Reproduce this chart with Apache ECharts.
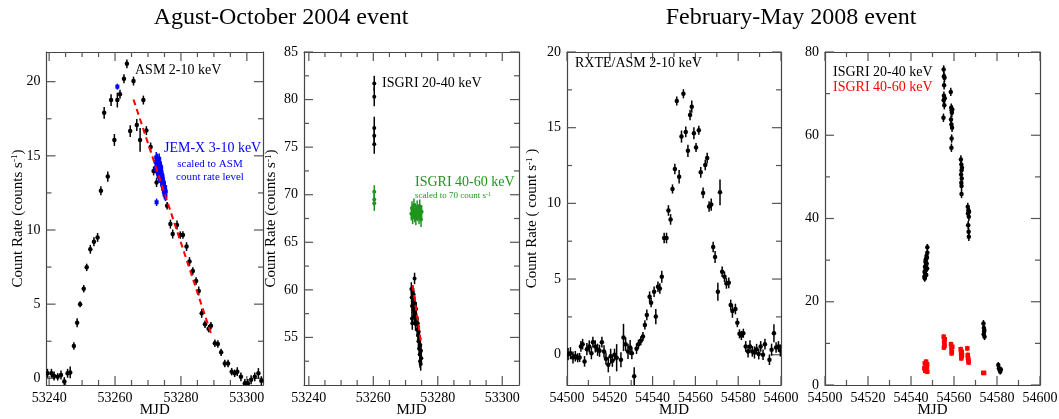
<!DOCTYPE html>
<html>
<head>
<meta charset="utf-8">
<script src="https://cdn.jsdelivr.net/npm/echarts@6/dist/echarts.min.js"></script>
<style>
  html, body { margin: 0; padding: 0; background: #fff; }
  #chart { width: 1059px; height: 419px; }
</style>
</head>
<body>
<div id="chart"></div>
<script>
// ---- data: [MJD, count rate, error] ----
var asm04 = [
  [53239.5,0.34,0.3],[53240.7,0.34,0.3],[53241.5,0.16,0.3],[53242.6,0.1,0.25],[53243.6,0.22,0.3],
  [53244.6,-0.22,0.3],[53245.6,0.34,0.3],[53246.4,0.4,0.4],[53247.5,2.18,0.25],[53248.5,3.75,0.3],
  [53249.4,5.0,0.2],[53250.5,6.04,0.25],[53251.4,7.48,0.25],[53252.5,8.7,0.3],[53253.6,9.21,0.3],
  [53254.7,9.5,0.3],[53255.7,12.65,0.3],[53256.7,17.9,0.4],[53257.8,13.6,0.35],[53258.8,18.76,0.4],
  [53259.8,16.07,0.4],[53260.7,18.76,0.5],[53261.5,19.15,0.3],[53262.7,20.2,0.3],[53263.6,21.2,0.3],
  [53264.6,16.67,0.4],[53265.6,20.04,0.3],[53266.6,17.08,0.4],[53267.6,16.07,0.8],[53268.6,18.76,0.3],
  [53269.5,16.7,0.3],[53270.8,15.6,0.3],[53271.7,13.98,0.3],[53272.6,13.2,0.3],[53275.8,11.64,0.25],
  [53276.8,10.4,0.3],[53277.5,9.73,0.3],[53278.8,10.34,0.3],[53279.8,9.66,0.25],[53280.6,9.66,0.25],
  [53281.7,8.88,0.3],[53282.6,7.87,0.3],[53283.6,7.24,0.25],[53284.6,6.56,0.25],[53285.4,5.89,0.3],
  [53286.3,4.38,0.3],[53287.3,3.64,0.25],[53288.4,3.35,0.25],[53289.1,3.55,0.25],[53290.3,2.36,0.25],
  [53291.2,2.31,0.25],[53292.2,1.75,0.25],[53293.3,1.0,0.25],[53294.3,1.0,0.25],[53295.4,0.45,0.25],
  [53296.3,0.34,0.25],[53297.1,0.45,0.3],[53298.2,0.1,0.3],[53299.4,-0.34,0.3],[53300.3,-0.34,0.3],
  [53301.3,-0.1,0.3],[53302.4,0.1,0.3],[53303.5,0.34,0.35],[53304.4,-0.16,0.3]
];
var jemx04 = [
  [53260.7,19.66,0.2],[53272.6,11.87,0.25],
  [53272.3,14.6,0.35],[53272.4,14.2,0.35],[53272.5,14.9,0.35],[53272.6,14.4,0.35],[53272.7,14.0,0.35],
  [53272.8,14.7,0.35],[53272.9,14.3,0.35],[53273.0,13.9,0.35],[53273.1,14.6,0.35],[53273.2,14.2,0.35],
  [53273.3,13.8,0.35],[53273.4,14.8,0.35],[53273.5,14.4,0.35],[53273.6,13.9,0.35],[53273.7,13.6,0.35],
  [53273.8,14.3,0.35],[53273.9,14.0,0.35],[53274.0,13.5,0.35],[53274.1,13.9,0.35],[53274.2,13.3,0.35],
  [53274.3,13.7,0.35],[53274.4,13.0,0.35],[53274.5,13.4,0.35],[53274.6,12.8,0.35],[53274.7,13.1,0.35],
  [53274.8,12.6,0.35],[53274.9,12.9,0.35],[53275.0,12.4,0.35],[53275.1,12.7,0.35],[53275.3,12.3,0.35],
  [53272.5,14.1,0.35],[53272.9,14.8,0.35],[53273.2,13.6,0.35],[53273.6,14.5,0.35],[53274.0,14.2,0.35],
  [53274.4,13.6,0.35],[53274.8,13.2,0.35],[53275.2,12.9,0.35],[53275.4,12.6,0.35],[53273.9,13.3,0.35]
];
var fit04asm = [[53265.6,18.8],[53289.3,2.9]];

var isgriLo04 = [
  [53260.3,81.7,0.8],[53260.3,80.3,1.0],[53260.3,77.0,1.2],[53260.3,76.2,1.0],[53260.3,75.3,1.0],
  [53271.8,60.1,0.7],[53271.9,59.2,0.7],[53272.0,58.3,0.7],[53272.0,57.0,0.7],[53272.1,56.5,0.7],
  [53272.2,59.8,0.7],[53272.3,58.8,0.7],[53272.4,57.9,0.7],[53272.5,59.5,0.7],[53272.6,58.0,0.7],
  [53272.7,57.2,0.7],[53272.8,61.2,0.6],[53272.9,58.6,0.7],[53273.0,57.5,0.7],[53273.1,56.4,0.7],
  [53273.3,58.0,0.7],[53273.4,56.9,0.7],[53273.6,55.8,0.7],[53273.8,56.5,0.7],[53273.9,55.2,0.7],
  [53274.0,54.6,0.7],[53274.1,55.6,0.7],[53274.2,53.8,0.7],[53274.3,54.9,0.7],[53274.4,53.2,0.7],
  [53274.5,52.5,0.7],[53274.6,54.2,0.7],[53274.7,52.2,0.7],[53274.8,53.6,0.7],[53274.9,52.8,0.7]
];
var isgriHi04 = [
  [53260.3,70.3,0.7],[53260.3,69.5,0.7],[53260.3,69.1,0.8],
  [53271.8,68.0,0.7],[53272.0,68.6,0.7],[53272.2,67.6,0.7],[53272.4,68.3,0.7],[53272.6,68.9,0.7],
  [53272.8,67.8,0.7],[53273.0,68.4,0.7],[53273.2,67.5,0.7],[53273.4,68.1,0.7],[53273.6,68.7,0.7],
  [53273.8,67.9,0.7],[53274.0,68.3,0.7],[53274.2,67.6,0.7],[53274.4,68.8,0.7],[53274.6,68.0,0.7],
  [53274.8,67.4,0.8],[53275.0,68.2,0.7]
];
var fit04isgri = [[53272.2,60.5],[53274.8,54.4]];

var asm08 = [
  [54500.5,0.04,0.4],[54501.6,0.1,0.4],[54502.8,-0.18,0.4],[54503.9,-0.1,0.35],[54505.0,-0.2,0.3],
  [54505.9,-0.18,0.3],[54506.5,0.55,0.35],[54507.3,0.7,0.35],[54508.2,-0.44,0.35],[54509.3,0.37,0.4],
  [54510.4,0.55,0.4],[54511.4,0.1,0.4],[54512.1,0.83,0.35],[54513.2,0.55,0.4],[54514.3,0.33,0.4],
  [54515.2,0.26,0.4],[54516.3,0.83,0.35],[54517.3,0.22,0.4],[54518.2,-0.26,0.4],[54519.3,-0.66,0.5],
  [54520.4,-0.1,0.5],[54521.2,-0.4,0.4],[54522.2,0.0,0.4],[54523.2,-0.2,0.9],[54525.2,-0.33,0.5],
  [54526.4,1.14,0.9],[54527.4,0.7,0.45],[54528.5,0.22,0.5],[54529.5,0.48,0.5],[54530.3,0.1,0.4],
  [54531.4,-1.42,0.6],[54532.5,0.4,0.35],[54533.4,0.7,0.3],[54534.5,0.92,0.3],[54535.5,1.2,0.3],
  [54536.4,1.97,0.3],[54537.3,2.63,0.35],[54538.6,3.83,0.35],[54539.3,3.44,0.3],[54540.7,4.16,0.35],
  [54541.5,2.52,0.5],[54542.5,4.49,0.35],[54543.4,4.38,0.35],[54544.3,5.15,0.4],[54545.4,7.71,0.35],
  [54546.5,7.71,0.35],[54547.4,9.53,0.35],[54548.4,8.94,0.35],[54549.3,10.95,0.3],[54550.4,12.27,0.35],
  [54551.3,16.76,0.3],[54552.4,11.76,0.45],[54553.5,14.41,0.4],[54554.4,17.24,0.3],[54555.5,14.72,0.35],
  [54556.5,13.47,0.4],[54557.5,15.84,0.35],[54558.3,16.39,0.4],[54559.3,14.63,0.4],[54560.3,13.69,0.3],
  [54561.6,14.83,0.3],[54562.5,12.05,0.35],[54563.6,10.69,0.35],[54564.6,12.53,0.35],[54565.5,12.99,0.35],
  [54566.4,9.79,0.35],[54567.4,9.92,0.4],[54568.3,7.12,0.35],[54569.2,6.46,0.4],[54570.5,4.16,0.6],
  [54571.5,10.73,0.85],[54572.5,5.48,0.35],[54573.6,5.15,0.35],[54574.5,4.71,0.35],[54575.6,4.75,0.35],
  [54576.5,3.29,0.35],[54577.3,2.89,0.45],[54578.7,3.02,0.35],[54579.6,2.12,0.3],[54580.6,1.38,0.3],
  [54581.5,1.27,0.3],[54582.4,1.42,0.3],[54583.5,0.55,0.35],[54584.6,0.22,0.4],[54585.5,0.55,0.4],
  [54586.6,0.22,0.35],[54587.6,0.15,0.4],[54588.6,0.37,0.35],[54589.6,0.04,0.35],[54590.5,0.55,0.35],
  [54591.6,0.0,0.35],[54592.5,0.7,0.35],[54594.6,-0.33,0.35],[54595.6,0.33,0.4],[54596.7,1.42,0.6],
  [54597.7,0.48,0.35],[54598.8,0.55,0.35],[54599.7,0.28,0.4]
];

var isgriLo08 = [
  [54546.2,26.0,0.8],[54546.3,27.2,0.8],[54546.4,25.6,0.8],[54546.5,28.4,0.8],[54546.6,26.8,0.8],
  [54546.7,29.6,0.8],[54546.8,27.6,0.8],[54546.9,30.2,0.8],[54547.0,28.8,0.8],[54547.1,26.4,0.8],
  [54547.2,31.0,0.8],[54547.3,29.2,0.8],[54547.4,30.6,0.8],[54547.5,28.0,0.8],[54547.6,33.1,0.8],[54547.6,31.8,0.8],
  [54555.2,75.8,1.0],[54555.3,74.2,1.0],[54555.4,72.0,1.0],[54555.3,69.5,1.0],[54555.2,68.4,1.0],
  [54555.5,67.2,1.0],[54555.1,64.2,1.0],[54555.6,73.8,1.0],[54555.7,68.9,1.0],
  [54558.5,70.4,1.0],[54558.7,66.6,1.0],[54558.9,66.0,1.0],[54559.0,65.4,1.0],[54559.2,66.2,1.0],
  [54558.6,63.8,1.0],[54558.8,62.6,1.0],[54559.1,61.8,1.0],[54558.9,59.2,1.0],[54558.8,57.0,1.0],
  [54563.2,54.2,1.0],[54563.4,53.0,1.0],[54563.5,51.6,1.0],[54563.3,50.6,1.0],[54563.6,49.6,1.0],
  [54563.4,48.6,1.0],[54563.7,52.2,1.0],[54563.5,47.8,1.0],[54563.5,45.9,1.0],
  [54566.4,42.8,1.0],[54566.7,42.0,1.0],[54566.5,41.2,1.0],[54566.9,40.4,1.0],[54566.6,38.4,1.0],
  [54566.8,36.8,1.0],[54566.9,35.6,1.0],[54567.0,41.6,1.0],
  [54573.7,14.8,0.8],[54573.9,13.7,0.8],[54574.0,12.8,0.8],[54574.2,11.6,0.8],[54573.8,12.2,0.8],[54574.1,13.2,0.8],
  [54580.6,4.8,0.7],[54580.9,4.0,0.7],[54581.2,3.6,0.7],[54581.5,3.2,0.7],[54581.8,3.7,0.7]
];
var isgriHi08 = [
  [54546.2,4.0,0.6],[54546.4,5.2,0.6],[54546.6,3.4,0.6],[54546.8,4.6,0.6],[54547.0,5.6,0.6],
  [54547.2,3.8,0.6],[54547.4,4.4,0.6],[54547.6,3.2,0.6],[54547.5,5.0,0.6],
  [54555.2,11.6,0.6],[54555.4,10.4,0.6],[54555.6,9.4,0.6],[54555.3,9.0,0.6],[54555.7,11.0,0.6],[54555.5,10.0,0.6],
  [54558.6,9.8,0.6],[54558.8,8.8,0.6],[54559.0,8.0,0.6],[54559.2,9.2,0.6],[54558.9,7.6,0.6],
  [54563.1,8.6,0.6],[54563.3,7.6,0.6],[54563.5,6.8,0.6],[54563.7,7.2,0.6],[54563.4,6.4,0.6],[54563.6,8.0,0.6],
  [54566.2,8.8,0.6],[54566.4,7.2,0.6],[54566.6,6.2,0.6],[54566.8,5.4,0.6],[54566.5,6.6,0.6],[54566.7,5.8,0.6],
  [54573.6,2.9,0.3],[54574.0,2.9,0.3]
];

// ---- axis ranges and tick values ----
var x04Range = [53239.2, 53304.9];
var x04bRange = [53238.5, 53305.2];
var x08Range = [54500, 54600];
var ticks04Major = [53240, 53260, 53280, 53300];
var ticks04Minor = [53245, 53250, 53255, 53265, 53270, 53275, 53285, 53290, 53295];
var ticks08Major = [54500, 54520, 54540, 54560, 54580, 54600];
var ticks08Minor = [54510, 54530, 54550, 54570, 54590];
var yAsm04Range = [-0.45, 22];
var yAsm04Major = [0, 5, 10, 15, 20];
var yAsm04Minor = [2.5, 7.5, 12.5, 17.5];
var yIsgri04Range = [50, 85];
var yIsgri04Major = [55, 60, 65, 70, 75, 80, 85];
var yIsgri04Minor = [52.5, 57.5, 62.5, 67.5, 72.5, 77.5, 82.5];
var yAsm08Range = [-2, 20];
var yAsm08Major = [0, 5, 10, 15, 20];
var yAsm08Minor = [2.5, 7.5, 12.5, 17.5];
var yIsgri08Range = [0, 80];
var yIsgri08Major = [0, 20, 40, 60, 80];
var yIsgri08Minor = [10, 30, 50, 70];

var FONT = 'Liberation Serif';
var FRAME = '#444';
var TICK = '#555';
var supRich = function (size, color) {
  return { sup: { fontSize: size, verticalAlign: 'top', fontFamily: FONT, color: color, fill: color } };
};

// main axis (labels + frame side) and its mirror (frame side only)
function axesFor(dim, gi, range, majors, name, nameGap) {
  var sides = dim === 'x' ? ['bottom', 'top'] : ['left', 'right'];
  return sides.map(function (pos, si) {
    var a = {
      gridIndex: gi, type: 'value', position: pos, min: range[0], max: range[1],
      axisLine: { show: true, onZero: false, lineStyle: { color: FRAME, width: 1.2 } },
      axisTick: { show: false },
      axisLabel: { show: false },
      splitLine: { show: false }
    };
    if (si === 0) {
      a.axisLabel = { show: true, customValues: majors, fontFamily: FONT, fontSize: 14, color: '#000',
                      margin: 6, formatter: function (v) { return String(v); } };
      if (name) {
        a.name = name;
        a.nameLocation = 'middle';
        a.nameGap = nameGap;
        a.nameMoveOverlap = false;
        a.nameTextStyle = { fontFamily: FONT, fontSize: 15, color: '#000', rich: supRich(9, '#000') };
        if (dim === 'y') a.nameRotate = 90;
      }
    }
    return a;
  });
}

// inward ticks on both opposite sides of a panel, placed via the axis scale
function tickSeries(gi, dim, majors, minors, otherMin) {
  var data = majors.map(function (v) { return dim === 'x' ? [v, otherMin, 9] : [otherMin, v, 9]; })
    .concat(minors.map(function (v) { return dim === 'x' ? [v, otherMin, 5] : [otherMin, v, 5]; }));
  return {
    type: 'custom', xAxisIndex: gi * 2, yAxisIndex: gi * 2, silent: true, z: 1,
    data: data, encode: { x: 0, y: 1 },
    renderItem: function (params, api) {
      var cs = params.coordSys;
      var p = api.coord([api.value(0), api.value(1)]);
      var len = api.value(2);
      var st = { stroke: TICK, lineWidth: 1.2 };
      var c;
      if (dim === 'x') {
        c = [
          { type: 'line', shape: { x1: p[0], y1: cs.y + cs.height, x2: p[0], y2: cs.y + cs.height - len }, style: st },
          { type: 'line', shape: { x1: p[0], y1: cs.y, x2: p[0], y2: cs.y + len }, style: st }
        ];
      } else {
        c = [
          { type: 'line', shape: { x1: cs.x, y1: p[1], x2: cs.x + len, y2: p[1] }, style: st },
          { type: 'line', shape: { x1: cs.x + cs.width, y1: p[1], x2: cs.x + cs.width - len, y2: p[1] }, style: st }
        ];
      }
      return { type: 'group', children: c };
    }
  };
}

function errSeries(gi, data, color, size, shape) {
  return {
    type: 'custom', xAxisIndex: gi * 2, yAxisIndex: gi * 2, clip: true, z: 3,
    data: data, encode: { x: 0, y: 1 },
    renderItem: function (params, api) {
      var p = api.coord([api.value(0), api.value(1)]);
      var lo = api.coord([api.value(0), api.value(1) - api.value(2)]);
      var hi = api.coord([api.value(0), api.value(1) + api.value(2)]);
      var mark = shape === 'rect'
        ? { type: 'rect', shape: { x: p[0] - size / 2, y: p[1] - size / 2, width: size, height: size }, style: { fill: color } }
        : { type: 'circle', shape: { cx: p[0], cy: p[1], r: size / 2 }, style: { fill: color } };
      return { type: 'group', children: [
        { type: 'line', shape: { x1: p[0], y1: lo[1], x2: p[0], y2: hi[1] }, style: { stroke: color, lineWidth: 1.5 } },
        mark
      ] };
    }
  };
}

function fitLine(gi, data) {
  return { type: 'line', xAxisIndex: gi * 2, yAxisIndex: gi * 2, data: data, symbol: 'none', z: 5,
           lineStyle: { color: '#f00', width: 2, type: [6, 4] } };
}

function txt(x, y, text, size, color, align) {
  return { type: 'text', x: x, y: y, z: 10,
           style: { text: text, fontFamily: FONT, fontSize: size, fill: color, align: align || 'left',
                    verticalAlign: 'middle', rich: supRich(Math.round(size * 0.62), color) } };
}

var chart = echarts.init(document.getElementById('chart'), null, { renderer: 'canvas' });

var xAxes = [].concat(
  axesFor('x', 0, x04Range, ticks04Major, 'MJD', 18),
  axesFor('x', 1, x04bRange, ticks04Major, 'MJD', 18),
  axesFor('x', 2, x08Range, ticks08Major, 'MJD', 18),
  axesFor('x', 3, x08Range, ticks08Major, 'MJD', 18)
);
var yAxes = [].concat(
  axesFor('y', 0, yAsm04Range, yAsm04Major, 'Count Rate (counts s{sup|-1})', 21),
  axesFor('y', 1, yIsgri04Range, yIsgri04Major, 'Count Rate (counts s{sup|-1})', 25),
  axesFor('y', 2, yAsm08Range, yAsm08Major, 'Count Rate ( count s{sup|-1} )', 27),
  axesFor('y', 3, yIsgri08Range, yIsgri08Major, null, 0)
);

var gridBox = { top: 52, height: 333, outerBoundsMode: 'none', containLabel: false };
var option = {
  animation: false,
  backgroundColor: '#fff',
  grid: [
    Object.assign({ left: 46.5, width: 216.5 }, gridBox),
    Object.assign({ left: 304, width: 215 }, gridBox),
    Object.assign({ left: 567, width: 214 }, gridBox),
    Object.assign({ left: 825, width: 215 }, gridBox)
  ],
  xAxis: xAxes,
  yAxis: yAxes,
  series: [
    tickSeries(0, 'x', ticks04Major, ticks04Minor, yAsm04Range[0]),
    tickSeries(0, 'y', yAsm04Major, yAsm04Minor, x04Range[0]),
    tickSeries(1, 'x', ticks04Major, ticks04Minor, yIsgri04Range[0]),
    tickSeries(1, 'y', yIsgri04Major, yIsgri04Minor, x04bRange[0]),
    tickSeries(2, 'x', ticks08Major, ticks08Minor, yAsm08Range[0]),
    tickSeries(2, 'y', yAsm08Major, yAsm08Minor, x08Range[0]),
    tickSeries(3, 'x', ticks08Major, ticks08Minor, yIsgri08Range[0]),
    tickSeries(3, 'y', yIsgri08Major, yIsgri08Minor, x08Range[0]),
    errSeries(0, asm04, '#000', 4.5, 'circle'),
    fitLine(0, fit04asm),
    errSeries(0, jemx04, '#0000ff', 4, 'rect'),
    errSeries(1, isgriLo04, '#000', 4, 'circle'),
    errSeries(1, isgriHi04, '#1e961e', 4, 'circle'),
    fitLine(1, fit04isgri),
    errSeries(2, asm08, '#000', 4.5, 'circle'),
    errSeries(3, isgriLo08, '#000', 4.5, 'circle'),
    errSeries(3, isgriHi08, '#ff0000', 4.5, 'rect')
  ],
  graphic: [
    txt(281, 18, 'Agust-October 2004 event', 24, '#000', 'center'),
    txt(791, 18, 'February-May 2008 event', 24, '#000', 'center'),
    txt(135, 70, 'ASM 2-10 keV', 14, '#000'),
    txt(164, 148, 'JEM-X 3-10 keV', 14, '#0000ff'),
    txt(210, 164, 'scaled to ASM', 11, '#0000ff', 'center'),
    txt(210, 177, 'count rate level', 11, '#0000ff', 'center'),
    txt(382, 83, 'ISGRI 20-40 keV', 14, '#000'),
    txt(415, 182, 'ISGRI 40-60 keV', 14, '#1e961e'),
    txt(415, 196, 'scaled to 70 count s{sup|-1}', 9, '#1e961e'),
    txt(575, 63, 'RXTE/ASM 2-10 keV', 14, '#000'),
    txt(833, 72, 'ISGRI 20-40 keV', 14, '#000'),
    txt(833, 87, 'ISGRI 40-60 keV', 14, '#ff0000')
  ]
};
chart.setOption(option);
</script>
</body>
</html>
